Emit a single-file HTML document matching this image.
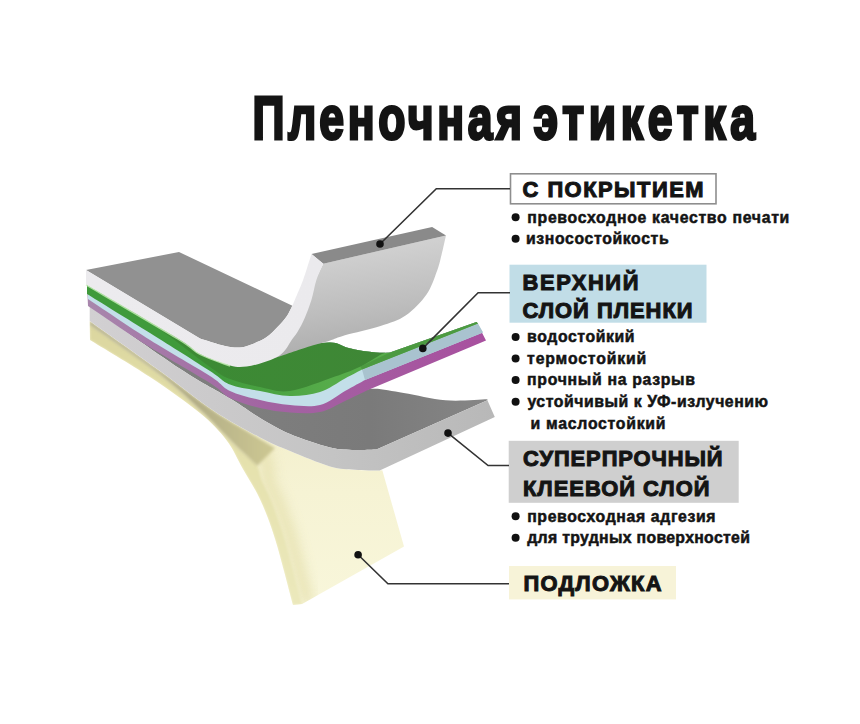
<!DOCTYPE html>
<html><head><meta charset="utf-8">
<style>
html,body{margin:0;padding:0;background:#fff;width:860px;height:724px;overflow:hidden}
svg{display:block}
text{font-family:"Liberation Sans",sans-serif;font-weight:bold;fill:#141414}
</style></head><body>
<svg width="860" height="724" viewBox="0 0 860 724">
<defs>
<linearGradient id="under" x1="0.4" y1="0" x2="0.6" y2="1"><stop offset="0" stop-color="#d6d6d6"/><stop offset="0.6" stop-color="#bdbdbd"/><stop offset="1" stop-color="#a9a9a9"/></linearGradient>
<linearGradient id="purp" x1="0" y1="0" x2="1" y2="0"><stop offset="0" stop-color="#a886ac"/><stop offset="0.45" stop-color="#a264a2"/><stop offset="1" stop-color="#a8509f"/></linearGradient>
<linearGradient id="dgreen" x1="0" y1="0" x2="1" y2="0"><stop offset="0" stop-color="#3a8c33"/><stop offset="1" stop-color="#3f8736"/></linearGradient>
<linearGradient id="adtop" gradientUnits="userSpaceOnUse" x1="250" y1="0" x2="490" y2="0"><stop offset="0" stop-color="#7e7e7e"/><stop offset="0.5" stop-color="#7a7a7a"/><stop offset="1" stop-color="#868686"/></linearGradient>
<linearGradient id="adfront" gradientUnits="userSpaceOnUse" x1="90" y1="0" x2="495" y2="0"><stop offset="0" stop-color="#d2d0d2"/><stop offset="0.6" stop-color="#c4c4c4"/><stop offset="1" stop-color="#b8b8b8"/></linearGradient>
<linearGradient id="yback" gradientUnits="userSpaceOnUse" x1="0" y1="420" x2="0" y2="600"><stop offset="0" stop-color="#f3efcc"/><stop offset="0.4" stop-color="#f6f3d4"/><stop offset="1" stop-color="#f8f6da"/></linearGradient>
<linearGradient id="yfront" gradientUnits="userSpaceOnUse" x1="0" y1="330" x2="0" y2="600"><stop offset="0" stop-color="#dcd7a0"/><stop offset="0.4" stop-color="#e4e0ab"/><stop offset="1" stop-color="#ebe8bb"/></linearGradient>
<linearGradient id="white" x1="0" y1="0" x2="1" y2="0"><stop offset="0" stop-color="#ecebee"/><stop offset="1" stop-color="#ebeaed"/></linearGradient>
<filter id="blur6" x="-20%" y="-20%" width="140%" height="140%"><feGaussianBlur stdDeviation="6"/></filter>
<filter id="blur1" x="-5%" y="-5%" width="110%" height="110%"><feGaussianBlur stdDeviation="0.8"/></filter>
<linearGradient id="bgreen" gradientUnits="userSpaceOnUse" x1="90" y1="0" x2="330" y2="0"><stop offset="0" stop-color="#3f9a3b"/><stop offset="0.5" stop-color="#3f9a3b"/><stop offset="1" stop-color="#56ac4a"/></linearGradient>
<filter id="blur10" x="-50%" y="-50%" width="200%" height="200%"><feGaussianBlur stdDeviation="10"/></filter>
<linearGradient id="olive" gradientUnits="userSpaceOnUse" x1="90" y1="0" x2="268" y2="0"><stop offset="0" stop-color="#a9a582"/><stop offset="0.6" stop-color="#b3ae86"/><stop offset="1" stop-color="#cbc692"/></linearGradient>
<filter id="blur2" x="-10%" y="-10%" width="120%" height="120%"><feGaussianBlur stdDeviation="1.8"/></filter>
</defs>
<rect width="860" height="724" fill="#fff"/>

<!-- ===== illustration ===== -->
<g id="illus">
<clipPath id="yclip"><path d="M89.7,321.0 C101.4,329.3 139.3,356.0 160.0,371.0 C180.7,386.0 197.3,399.9 214.0,411.0 C230.7,422.1 247.3,430.8 260.0,437.5 C272.7,444.2 278.3,446.2 290.0,451.0 C301.7,455.8 319.2,463.3 330.0,466.4 C340.8,469.5 346.6,469.0 354.9,469.7 C363.2,470.4 375.6,470.5 379.7,470.6 L382.3,470.2 L404,546.5 L302,604 L293,605 C290.1,594.2 280.8,557.5 275.4,540.0 C270.0,522.5 265.8,511.8 260.4,500.0 C255.0,488.2 248.7,479.0 243.0,469.0 C237.3,459.0 233.6,449.3 226.4,440.0 C219.2,430.7 212.7,423.5 200.0,413.0 C187.3,402.5 168.3,389.2 150.0,377.0 C131.7,364.8 100.0,346.2 90.0,340.0 Z"/></clipPath>
<path d="M89.7,321.0 C101.4,329.3 139.3,356.0 160.0,371.0 C180.7,386.0 197.3,399.9 214.0,411.0 C230.7,422.1 247.3,430.8 260.0,437.5 C272.7,444.2 278.3,446.2 290.0,451.0 C301.7,455.8 319.2,463.3 330.0,466.4 C340.8,469.5 346.6,469.0 354.9,469.7 C363.2,470.4 375.6,470.5 379.7,470.6 L382.3,470.2 L404,546.5 L302,604 L293,605 C290.1,594.2 280.8,557.5 275.4,540.0 C270.0,522.5 265.8,511.8 260.4,500.0 C255.0,488.2 248.7,479.0 243.0,469.0 C237.3,459.0 233.6,449.3 226.4,440.0 C219.2,430.7 212.7,423.5 200.0,413.0 C187.3,402.5 168.3,389.2 150.0,377.0 C131.7,364.8 100.0,346.2 90.0,340.0 Z" fill="url(#yback)"/>
<g clip-path="url(#yclip)">
<path d="M262.0,446.0 C263.0,450.0 267.0,464.2 268.0,470.0 C269.0,475.8 266.5,476.0 268.0,481.0 C269.5,486.0 274.2,493.2 277.0,500.0 C279.8,506.8 282.7,515.3 285.0,522.0 C287.3,528.7 287.2,526.3 291.0,540.0 C294.8,553.7 305.2,593.3 308.0,604.0" fill="none" stroke="#e6e1b0" stroke-width="12" filter="url(#blur6)" opacity="0.9"/>
<path d="M89.7,324.5 C101.4,332.8 141.3,360.0 160.0,374.5 C178.7,389.0 191.8,402.5 201.6,411.6 C211.4,420.7 212.9,422.9 219.0,429.0 C225.1,435.1 232.3,442.6 238.4,448.4 C244.5,454.2 251.9,458.4 255.8,463.8 C259.7,469.2 259.5,475.0 262.0,481.0 C264.5,487.0 268.2,493.2 271.0,500.0 C273.8,506.8 276.7,515.3 279.0,522.0 C281.3,528.7 281.2,526.3 285.0,540.0 C288.8,553.7 299.2,593.3 302.0,604.0 L293,605 C290.1,594.2 280.8,557.5 275.4,540.0 C270.0,522.5 265.8,511.8 260.4,500.0 C255.0,488.2 248.7,479.0 243.0,469.0 C237.3,459.0 233.6,449.3 226.4,440.0 C219.2,430.7 212.7,423.5 200.0,413.0 C187.3,402.5 168.3,389.2 150.0,377.0 C131.7,364.8 100.0,346.2 90.0,340.0 Z" fill="url(#yfront)" filter="url(#blur1)"/>
<path d="M89.7,321.0 C101.4,329.3 139.3,356.0 160.0,371.0 C180.7,386.0 199.8,401.2 214.0,411.0 C228.2,420.8 236.0,424.5 245.0,430.0 C254.0,435.5 263.0,441.0 268.0,444.0 C273.0,447.0 273.8,447.3 275.0,448.0 L257,466 C252.9,461.2 244.5,454.2 238.4,448.4 C232.3,442.6 225.1,435.1 219.0,429.0 C212.9,422.9 211.4,420.7 201.6,411.6 C191.8,402.5 178.7,389.0 160.0,374.5 C141.3,360.0 101.4,332.8 89.7,324.5 Z" fill="url(#olive)" filter="url(#blur2)"/>
</g>
<path d="M89.0,304.0 C99.2,310.8 129.8,332.2 150.0,345.0 C170.2,357.8 191.7,371.2 210.0,381.0 C228.3,390.8 241.7,399.3 260.0,404.0 C278.3,408.7 305.0,410.3 320.0,409.0 C335.0,407.7 341.3,399.4 350.0,396.0 C358.7,392.6 363.4,389.3 372.3,388.8 C381.2,388.3 391.5,391.1 403.7,393.0 C415.9,394.9 431.7,399.2 445.6,400.3 C459.6,401.4 480.4,399.5 487.4,399.3 L487.4,400.3 L376.4,449.5 C372.8,449.6 362.6,450.2 354.9,449.9 C347.2,449.5 340.8,450.0 330.0,447.4 C319.2,444.8 301.7,438.9 290.0,434.0 C278.3,429.1 269.7,423.8 260.0,418.0 C250.3,412.2 245.1,407.7 231.8,399.5 C218.5,391.3 203.7,384.4 180.0,368.8 C156.3,353.2 104.8,316.5 89.7,306.0 Z" fill="url(#adtop)"/>
<path d="M89.7,306.0 C104.8,316.5 156.3,353.2 180.0,368.8 C203.7,384.4 218.5,391.3 231.8,399.5 C245.1,407.7 250.3,412.2 260.0,418.0 C269.7,423.8 278.3,429.1 290.0,434.0 C301.7,438.9 319.2,444.8 330.0,447.4 C340.8,450.0 347.2,449.5 354.9,449.9 C362.6,450.2 372.8,449.6 376.4,449.5 L487.4,400.3 L494.8,417.1 L379.7,470.6 C375.6,470.5 363.2,470.4 354.9,469.7 C346.6,469.0 340.8,469.5 330.0,466.4 C319.2,463.3 301.7,455.8 290.0,451.0 C278.3,446.2 272.7,444.2 260.0,437.5 C247.3,430.8 230.7,422.1 214.0,411.0 C197.3,399.9 180.7,386.0 160.0,371.0 C139.3,356.0 101.4,329.3 89.7,321.0 Z" fill="url(#adfront)"/>
<path d="M87.0,285.0 C97.5,291.0 131.2,311.2 150.0,321.0 C168.8,330.8 183.3,339.3 200.0,344.0 C216.7,348.7 235.0,348.5 250.0,349.0 C265.0,349.5 276.7,348.1 290.0,347.0 C303.3,345.9 320.6,342.3 330.0,342.4 C339.4,342.5 341.1,345.9 346.6,347.4 C352.1,348.8 357.6,350.2 363.1,351.1 C368.6,352.0 375.2,352.6 379.7,352.8 C384.2,353.0 388.3,352.5 390.0,352.4 L476.5,322.0 L486.0,340.5 L368.0,390.0 C364.2,391.8 353.0,397.3 345.0,401.0 C337.0,404.7 329.2,410.1 320.0,412.0 C310.8,413.9 300.0,413.2 290.0,412.5 C280.0,411.8 270.0,410.4 260.0,408.0 C250.0,405.6 238.3,402.2 230.0,398.0 C221.7,393.8 223.3,391.4 210.0,383.0 C196.7,374.6 170.3,360.1 150.0,347.3 C129.7,334.5 98.3,312.9 88.0,306.0 Z" fill="url(#purp)"/>
<path d="M87.0,285.0 C97.5,291.0 131.2,311.2 150.0,321.0 C168.8,330.8 183.3,339.3 200.0,344.0 C216.7,348.7 235.0,348.5 250.0,349.0 C265.0,349.5 276.7,348.1 290.0,347.0 C303.3,345.9 320.6,342.3 330.0,342.4 C339.4,342.5 341.1,345.9 346.6,347.4 C352.1,348.8 357.6,350.2 363.1,351.1 C368.6,352.0 375.2,352.6 379.7,352.8 C384.2,353.0 388.3,352.5 390.0,352.4 L476.5,322.0 L483.0,332.5 L365.0,380.0 C361.7,381.8 352.5,386.8 345.0,391.0 C337.5,395.2 329.2,402.7 320.0,405.0 C310.8,407.3 300.0,405.8 290.0,405.0 C280.0,404.2 270.0,402.3 260.0,400.0 C250.0,397.7 238.3,395.0 230.0,391.0 C221.7,387.0 223.3,384.5 210.0,376.0 C196.7,367.5 170.3,352.8 150.0,340.0 C129.7,327.2 98.3,305.8 88.0,299.0 Z" fill="#c3dfe9"/>
<path d="M362.0,369.5 L478.0,323.5 L483.0,332.5 L365.0,380.0 Z" fill="#a9c3cf"/>
<path d="M87.0,285.0 C97.5,291.0 131.2,311.2 150.0,321.0 C168.8,330.8 183.3,339.3 200.0,344.0 C216.7,348.7 235.0,348.5 250.0,349.0 C265.0,349.5 276.7,348.1 290.0,347.0 C303.3,345.9 320.6,342.3 330.0,342.4 C339.4,342.5 341.1,345.9 346.6,347.4 C352.1,348.8 357.6,350.2 363.1,351.1 C368.6,352.0 375.2,352.6 379.7,352.8 C384.2,353.0 388.3,352.5 390.0,352.4 L476.5,322.0 L478.0,323.5 L362.0,369.5 C359.2,371.0 352.0,374.8 345.0,378.5 C338.0,382.2 329.2,389.1 320.0,392.0 C310.8,394.9 300.0,396.2 290.0,396.0 C280.0,395.8 270.0,392.9 260.0,391.0 C250.0,389.1 238.3,387.8 230.0,384.5 C221.7,381.2 223.3,379.6 210.0,371.0 C196.7,362.4 170.5,345.8 150.0,333.0 C129.5,320.2 97.5,300.5 87.0,294.0 Z" fill="url(#bgreen)"/>
<path d="M360.6,366.5 L390,352.4 L476.5,322 L478,323.5 L362,369.5 Z" fill="#4c9a41"/>
<path d="M87.0,285.0 C97.5,291.0 131.2,311.2 150.0,321.0 C168.8,330.8 183.3,339.3 200.0,344.0 C216.7,348.7 235.0,348.5 250.0,349.0 C265.0,349.5 276.7,348.1 290.0,347.0 C303.3,345.9 320.6,342.3 330.0,342.4 C339.4,342.5 341.1,345.9 346.6,347.4 C352.1,348.8 357.6,350.2 363.1,351.1 C368.6,352.0 375.2,352.6 379.7,352.8 C384.2,353.0 388.3,352.5 390.0,352.4 L390.0,352.4 C388.7,352.7 386.9,351.6 382.0,354.0 C377.1,356.4 368.4,362.7 360.6,366.5 C352.8,370.3 346.8,372.5 335.0,376.6 C323.2,380.7 302.5,389.3 290.0,391.0 C277.5,392.7 270.0,389.0 260.0,387.0 C250.0,385.0 238.3,382.3 230.0,379.0 C221.7,375.7 223.3,376.4 210.0,367.0 C196.7,357.6 170.5,336.2 150.0,322.5 C129.5,308.8 97.5,291.2 87.0,285.0 Z" fill="url(#dgreen)"/>
<path d="M323.3,263.7 L446.0,235.5 C445.2,238.8 443.0,249.1 441.5,255.0 C440.0,260.9 439.5,264.4 437.0,271.0 C434.5,277.6 431.7,287.1 426.5,294.5 C421.3,301.9 413.3,310.2 405.6,315.5 C397.9,320.8 390.6,322.7 380.5,326.0 C370.4,329.3 353.4,332.9 344.9,335.3 C336.4,337.8 335.3,338.9 329.5,340.7 C323.7,342.5 319.1,343.4 310.0,346.3 C300.9,349.2 280.8,356.1 275.0,358.0 L290,330 Z" fill="url(#under)"/>
<path d="M86,270 L179,252 L292.4,305.7 C291.4,307.5 289.0,313.0 286.6,316.5 C284.2,320.0 281.4,323.0 278.0,326.5 C274.6,330.0 270.7,334.5 266.0,337.6 C261.3,340.7 254.4,343.4 250.0,345.0 C245.6,346.6 244.0,347.3 239.8,347.5 C235.6,347.7 231.6,347.5 225.0,346.0 C218.4,344.5 204.2,339.8 200.0,338.5 Z" fill="#919191"/>
<path d="M311.5,254.1 L432.1,227.1 L446,235.5 L323.3,263.7 Z" fill="#8a8a8a"/>
<path d="M86,270 L86.0,284.5 C101.3,293.5 158.7,326.9 177.7,338.5 C196.7,350.1 191.3,349.5 200.0,354.0 C208.7,358.5 222.2,363.4 230.0,365.5 C237.8,367.6 241.1,367.0 246.6,366.5 C252.1,366.0 258.0,364.0 263.1,362.4 C268.2,360.8 273.3,359.1 277.0,357.0 C280.7,354.9 282.9,352.6 285.2,350.0 C287.5,347.4 288.6,344.4 290.7,341.4 C292.8,338.4 295.3,335.6 297.6,331.8 C299.9,328.0 302.2,323.9 304.5,318.6 C306.8,313.3 309.4,306.4 311.4,300.0 C313.4,293.6 314.4,286.1 316.4,280.0 C318.4,273.9 322.1,266.4 323.3,263.7 L311.5,254.1 C310.1,258.4 305.5,273.4 303.1,280.0 C300.7,286.6 299.1,289.7 297.3,294.0 C295.5,298.3 293.2,303.8 292.4,305.7 C291.4,307.5 289.0,313.0 286.6,316.5 C284.2,320.0 281.4,323.0 278.0,326.5 C274.6,330.0 270.7,334.5 266.0,337.6 C261.3,340.7 254.4,343.4 250.0,345.0 C245.6,346.6 244.0,347.3 239.8,347.5 C235.6,347.7 231.6,347.5 225.0,346.0 C218.4,344.5 204.2,339.8 200.0,338.5 L86,270 Z" fill="url(#white)"/>
<path d="M86.0,285.0 C101.3,294.0 158.7,327.4 177.7,339.0 C196.7,350.6 191.3,350.0 200.0,354.5 C208.7,359.0 225.0,364.1 230.0,366.0" fill="none" stroke="#c8f0b8" stroke-width="1.4" opacity="0.8"/>
</g>

<text transform="translate(252.50,139.00) scale(0.730,1)" x="0" y="0" font-size="61.00" textLength="369.18" lengthAdjust="spacing" stroke="#141414" stroke-width="3.00">Пленочная</text>
<text transform="translate(533.50,139.00) scale(0.730,1)" x="0" y="0" font-size="61.00" textLength="303.42" lengthAdjust="spacing" stroke="#141414" stroke-width="3.00">этикетка</text>
<rect x="510.5" y="173.8" width="205.5" height="30" fill="#fff" stroke="#8e8e8e" stroke-width="1.6"/>
<rect x="509.5" y="264.7" width="197" height="58" fill="#c1dde7"/>
<rect x="508.7" y="440.8" width="230" height="62" fill="#cfcfcf"/>
<rect x="509" y="566" width="167" height="33.4" fill="#f7f3d8"/>
<text transform="translate(522.50,196.80) scale(0.970,1)" x="0" y="0" font-size="22.60" textLength="186.60" lengthAdjust="spacing" stroke="#141414" stroke-width="1.05">С ПОКРЫТИЕМ</text>
<text transform="translate(522.50,289.60) scale(0.970,1)" x="0" y="0" font-size="22.60" textLength="119.59" lengthAdjust="spacing" stroke="#141414" stroke-width="1.05">ВЕРХНИЙ</text>
<text transform="translate(522.50,318.00) scale(0.970,1)" x="0" y="0" font-size="22.60" textLength="175.26" lengthAdjust="spacing" stroke="#141414" stroke-width="1.05">СЛОЙ ПЛЕНКИ</text>
<text transform="translate(523.00,466.00) scale(0.970,1)" x="0" y="0" font-size="22.60" textLength="205.77" lengthAdjust="spacing" stroke="#141414" stroke-width="1.05">СУПЕРПРОЧНЫЙ</text>
<text transform="translate(523.00,496.00) scale(0.970,1)" x="0" y="0" font-size="22.60" textLength="192.27" lengthAdjust="spacing" stroke="#141414" stroke-width="1.05">КЛЕЕВОЙ СЛОЙ</text>
<text transform="translate(523.50,591.00) scale(0.970,1)" x="0" y="0" font-size="22.60" textLength="142.27" lengthAdjust="spacing" stroke="#141414" stroke-width="1.05">ПОДЛОЖКА</text>
<text transform="translate(527.30,222.50) scale(0.930,1)" x="0" y="0" font-size="17.00" textLength="281.72" lengthAdjust="spacing" stroke="#141414" stroke-width="0.55">превосходное качество печати</text>
<text transform="translate(526.00,244.00) scale(0.930,1)" x="0" y="0" font-size="17.00" textLength="153.44" lengthAdjust="spacing" stroke="#141414" stroke-width="0.55">износостойкость</text>
<text transform="translate(527.10,342.20) scale(0.930,1)" x="0" y="0" font-size="17.00" textLength="115.59" lengthAdjust="spacing" stroke="#141414" stroke-width="0.55">водостойкий</text>
<text transform="translate(527.10,363.60) scale(0.930,1)" x="0" y="0" font-size="17.00" textLength="128.06" lengthAdjust="spacing" stroke="#141414" stroke-width="0.55">термостойкий</text>
<text transform="translate(527.10,385.20) scale(0.930,1)" x="0" y="0" font-size="17.00" textLength="180.54" lengthAdjust="spacing" stroke="#141414" stroke-width="0.55">прочный на разрыв</text>
<text transform="translate(527.40,407.00) scale(0.930,1)" x="0" y="0" font-size="17.00" textLength="258.82" lengthAdjust="spacing" stroke="#141414" stroke-width="0.55">устойчивый к УФ-излучению</text>
<text transform="translate(527.20,521.50) scale(0.930,1)" x="0" y="0" font-size="17.00" textLength="202.58" lengthAdjust="spacing" stroke="#141414" stroke-width="0.55">превосходная адгезия</text>
<text transform="translate(527.20,543.00) scale(0.930,1)" x="0" y="0" font-size="17.00" textLength="239.46" lengthAdjust="spacing" stroke="#141414" stroke-width="0.55">для трудных поверхностей</text>
<text transform="translate(530.50,429.00) scale(0.930,1)" x="0" y="0" font-size="17.00" textLength="145.16" lengthAdjust="spacing" stroke="#141414" stroke-width="0.55">и маслостойкий</text>
<g fill="#111">
<circle cx="515.6" cy="217.3" r="4.0"/>
<circle cx="515.6" cy="238.8" r="4.0"/>
<circle cx="515.6" cy="337.0" r="4.0"/>
<circle cx="515.6" cy="358.4" r="4.0"/>
<circle cx="515.6" cy="380.0" r="4.0"/>
<circle cx="515.6" cy="401.8" r="4.0"/>
<circle cx="515.6" cy="516.3" r="4.0"/>
<circle cx="515.6" cy="537.8" r="4.0"/>
</g>
<g stroke="#333" stroke-width="1.6" fill="none">
<polyline points="380,244 436.3,188.7 510,188.7"/>
<polyline points="422.8,348.4 478.1,292.7 510,292.7"/>
<polyline points="448,433.1 488.1,465.5 509,465.5"/>
<polyline points="358.1,554.7 387.9,583.7 509,583.7"/>
</g>
<g fill="#111">
<circle cx="380" cy="244" r="3.8"/>
<circle cx="422.8" cy="348.4" r="3.8"/>
<circle cx="448" cy="433.1" r="3.8"/>
<circle cx="358.1" cy="554.7" r="3.8"/>
</g>

</svg>
</body></html>
